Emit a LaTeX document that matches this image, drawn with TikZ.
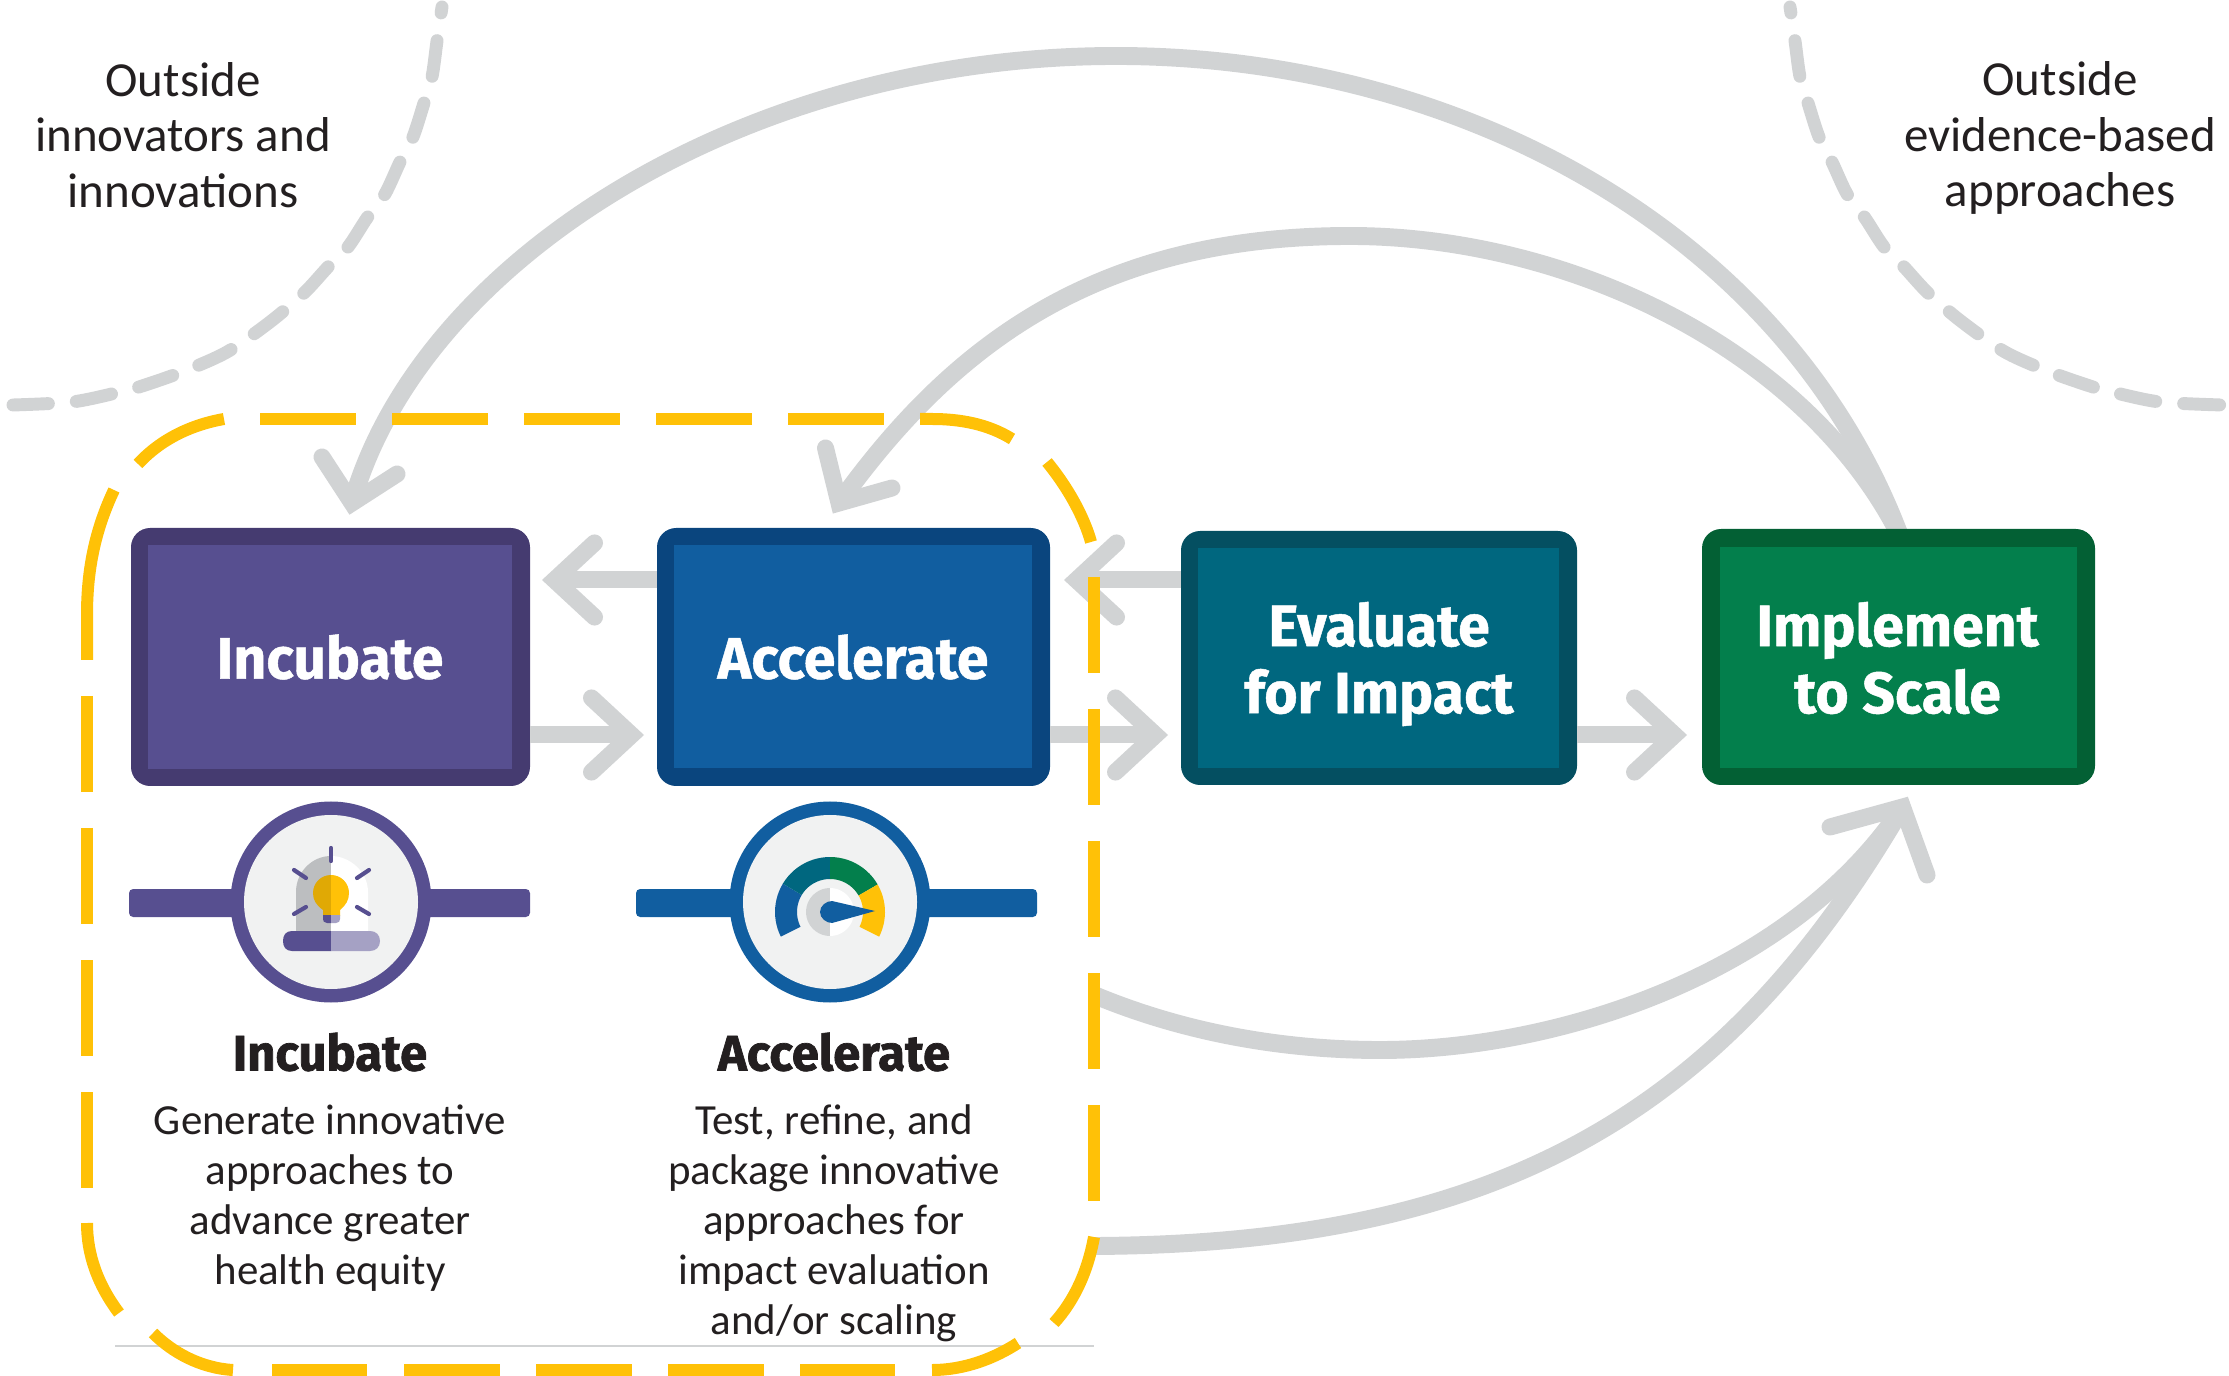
\documentclass[tikz,border=0pt]{standalone}
\usepackage{fontspec}
\setmainfont{Carlito}
\newfontfamily\heavy[FakeStretch=0.98,BoldFeatures={FakeBold=0.8}]{Fira Sans}
\newfontfamily\heavyb[FakeStretch=0.98,BoldFeatures={FakeBold=1.4}]{Fira Sans}
\usetikzlibrary{arrows.meta,calc,backgrounds}
\definecolor{gr}{HTML}{D1D3D4}
\definecolor{yl}{HTML}{FFC107}
\definecolor{yld}{HTML}{E0A905}
\definecolor{pu}{HTML}{574F90}
\definecolor{pul}{HTML}{A5A1C4}
\definecolor{pud}{HTML}{453B70}
\definecolor{bl}{HTML}{115EA0}
\definecolor{bld}{HTML}{0A457E}
\definecolor{te}{HTML}{00677F}
\definecolor{ted}{HTML}{044F61}
\definecolor{ge}{HTML}{037F4C}
\definecolor{ged}{HTML}{036034}
\definecolor{ic}{HTML}{F1F2F2}
\definecolor{dm}{HTML}{BCBEC0}
\definecolor{tx}{HTML}{231F20}
\def\pw{0.24pt}
\tikzset{
 outerbox/.style={rectangle,rounded corners=4.6pt,inner sep=0pt,outer sep=0pt},
 innerbox/.style={rectangle,inner sep=0pt,outer sep=0pt,align=center,text=white,font=\heavy\bfseries\fontsize{14}{16.1}\selectfont},
 straightarr/.style={draw=gr,line width=4.08pt,-{Straight Barb[length=9.6pt,width=17.8pt,line width=4.08pt,line cap=round,line join=miter]}},
 curvearc/.style={draw=gr,line width=4.3pt,line cap=butt},
 headbarb/.style={draw=gr,line width=4.08pt,line cap=round,line join=miter,miter limit=10},
 ydash/.style={draw=yl,line width=2.88pt,line cap=butt},
 gdash/.style={draw=gr,line width=3.1pt,line cap=round,dash pattern=on 8.64pt off 6.72pt,dash phase=7.2pt},
 toplabel/.style={align=center,text=tx,font=\fontsize{11.75}{13.35}\selectfont,inner sep=0pt},
 headlabel/.style={align=center,text=tx,font=\heavyb\bfseries\fontsize{12}{12}\selectfont,inner sep=0pt},
 desclabel/.style={align=center,text=tx,font=\fontsize{10.3}{12}\selectfont,inner sep=0pt},
 bar/.style={rounded corners=1pt},
 rayline/.style={draw=pu,line width=1pt,line cap=round}
}
\begin{document}
\begin{tikzpicture}[x=0.24pt,y=-0.24pt]
\useasboundingbox (0,0) rectangle (2229,1376);

% outside dashed arcs
\draw[gdash] plot[smooth] coordinates {(442,7)(437,41)(432,77)(424,103)(413,137)(400,162)(385,194)(367,218)(348,247)(328,267)(304,293)(270,322)(227,352)(182,372)(139,387)(116,393)(72,402)(13,405)};
\draw[gdash] plot[smooth] coordinates {(1790,7)(1795,41)(1800,77)(1808,103)(1819,137)(1832,162)(1847,194)(1865,218)(1884,247)(1904,267)(1928,293)(1962,322)(2005,352)(2050,372)(2093,387)(2116,393)(2160,402)(2222,405)};

% stage boxes
\node[outerbox,fill=pud,minimum width=399*\pw,minimum height=258*\pw] (inc) at (330.5,657) {};
\node[innerbox,fill=pu,minimum width=364*\pw,minimum height=224*\pw] (incin) at (330,657) {Incubate};
\node[outerbox,fill=bld,minimum width=393*\pw,minimum height=258*\pw] (acc) at (853.5,657) {};
\node[innerbox,fill=bl,minimum width=358*\pw,minimum height=223*\pw] (accin) at (853,657) {Accelerate};
\node[outerbox,fill=ted,minimum width=396*\pw,minimum height=254*\pw] (eva) at (1379,658) {};
\node[innerbox,fill=te,minimum width=361*\pw,minimum height=220*\pw] (evain) at (1378.5,658) {};
\node[innerbox] (evatext) at (1379,664) {Evaluate\\for Impact};
\node[outerbox,fill=ged,minimum width=393*\pw,minimum height=256*\pw] (imp) at (1898.5,657) {};
\node[innerbox,fill=ge,minimum width=357*\pw,minimum height=221*\pw] (impin) at (1898.5,657.5) {};
\node[innerbox] (imptext) at (1897.5,658) {Implement\\to Scale};

% straight arrows
\coordinate (upper) at (0,580);
\coordinate (lower) at (0,735);
\draw[straightarr,shorten >=12*\pw] (acc.west |- upper) -- (inc.east |- upper);
\draw[straightarr,shorten >=14*\pw] (eva.west |- upper) -- (acc.east |- upper);
\draw[straightarr,shorten >=13*\pw] (inc.east |- lower) -- (acc.west |- lower);
\draw[straightarr,shorten >=13*\pw] (acc.east |- lower) -- (eva.west |- lower);
\draw[straightarr,shorten >=15*\pw] (eva.east |- lower) -- (imp.west |- lower);

% feedback arcs
\coordinate (fa) at (1900,536);
\coordinate (va) at (352,503);
\coordinate (vb) at (839,503);
\coordinate (vc) at (1902.5,807);
\begin{scope}[on background layer]
\draw[curvearc] (fa) .. controls (1788,238) and (1466,56) .. (1116,56) .. controls (741,56) and (419.5,263) .. (va);
\draw[curvearc] (fa) .. controls (1807,351) and (1570,236) .. (1350,236) .. controls (1100,236) and (955,341) .. (vb);
\end{scope}
\draw[headbarb] (322,457) -- (va) -- (397,474);
\draw[headbarb] (825.5,448) -- (vb) -- (892,488);

% forward arcs
\coordinate (sc) at (1094,995);
\coordinate (sd) at (1094,1246);
\draw[curvearc] (sc) .. controls (1190,1035) and (1290,1050) .. (1380,1050) .. controls (1560,1050) and (1792,973) .. (vc);
\draw[curvearc] (sd) .. controls (1494,1244) and (1722,1117) .. (vc);
\draw[headbarb] (1830,827) -- (vc) -- (1927,875);

% thin rule
\draw[gr,line width=0.4pt] (115,1346) -- (1094,1346);

% yellow dashed boundary
\draw[ydash] (224,419) .. controls (190,425) and (160,440) .. (138,464);
\draw[ydash] (114,490) .. controls (95,530) and (87,570) .. (87,615) -- (87,660);
\foreach \a/\b in {260/356,392/488,524/620,656/752,788/884}{\draw[ydash] (\a,419) -- (\b,419);}
\draw[ydash] (920,419) -- (932,419) .. controls (960,419) and (988,424) .. (1012,439);
\draw[ydash] (1047,462) .. controls (1070,490) and (1085,520) .. (1091,542);
\foreach \a/\b in {577/673,709/805,841/937,973/1069,1105/1201}{\draw[ydash] (1094,\a) -- (1094,\b);}
\draw[ydash] (1094,1237) .. controls (1088,1270) and (1075,1300) .. (1054,1323);
\draw[ydash] (1018,1343) .. controls (995,1358) and (965,1370) .. (932,1370);
\foreach \a/\b in {272/367,404/500,536/632,668/764,800/895}{\draw[ydash] (\a,1370) -- (\b,1370);}
\draw[ydash] (233,1370) .. controls (200,1368) and (172,1352) .. (153,1333);
\draw[ydash] (119,1313) .. controls (98,1285) and (87,1255) .. (87,1223);
\foreach \a/\b in {696/792,828/924,960/1056,1092/1188}{\draw[ydash] (87,\a) -- (87,\b);}

% incubate icon
\fill[pu,bar] (129,889) rectangle (250,917);
\fill[pu,bar] (410,889) rectangle (530,917);
\fill[pu] (331,902) circle (100.5*\pw);
\fill[ic] (331,902) circle (87*\pw);
\fill[dm] (296,934) -- (296,892) .. controls (296,872) and (312,856) .. (331,856) -- (331,934) -- cycle;
\fill[white] (368,934) -- (368,892) .. controls (368,872) and (350,856) .. (331,856) -- (331,934) -- cycle;
\fill[pu] (331,931) -- (292,931) .. controls (286,931) and (283,935) .. (283,941) .. controls (283,947) and (286,951) .. (292,951) -- (331,951) -- cycle;
\fill[pul] (331,931) -- (370,931) .. controls (376,931) and (380,935) .. (380,941) .. controls (380,947) and (376,951) .. (370,951) -- (331,951) -- cycle;
\fill[yld] (331,875) .. controls (321,875) and (313,883) .. (313,893) .. controls (313,900) and (316,905) .. (323,910) -- (323,916) -- (331,916) -- cycle;
\fill[yl] (331,875) .. controls (341,875) and (349,883) .. (349,893) .. controls (349,900) and (346,905) .. (340,910) -- (340,916) -- (331,916) -- cycle;
\fill[pu] (323,915) -- (331,915) -- (331,923) -- (327,923) .. controls (324,923) and (323,921) .. (323,919) -- cycle;
\fill[pul] (340,915) -- (331,915) -- (331,923) -- (336,923) .. controls (339,923) and (340,921) .. (340,919) -- cycle;
\draw[rayline] (331,848) -- (331,861);
\draw[rayline] (294,870) -- (306,878);
\draw[rayline] (369,870) -- (357,878);
\draw[rayline] (294,914) -- (306,907);
\draw[rayline] (369,914) -- (357,907);

% accelerate icon
\fill[bl,bar] (636,889) rectangle (750,917);
\fill[bl,bar] (910,889) rectangle (1037,917);
\fill[bl] (830,902) circle (100.5*\pw);
\fill[ic] (830,902) circle (87*\pw);
\fill[bl] plot[domain=206.6:149,samples=14] ({830+55*cos(\x)},{912-55*sin(\x)}) -- plot[domain=149:206.6,samples=14] ({830+33*cos(\x)},{912-33*sin(\x)}) -- cycle;
\fill[te] plot[domain=149:90,samples=14] ({830+55*cos(\x)},{912-55*sin(\x)}) -- plot[domain=90:149,samples=14] ({830+33*cos(\x)},{912-33*sin(\x)}) -- cycle;
\fill[ge] plot[domain=90:30,samples=14] ({830+55*cos(\x)},{912-55*sin(\x)}) -- plot[domain=30:90,samples=14] ({830+33*cos(\x)},{912-33*sin(\x)}) -- cycle;
\fill[yl] plot[domain=30:-26.6,samples=14] ({830+55*cos(\x)},{912-55*sin(\x)}) -- plot[domain=-26.6:30,samples=14] ({830+33*cos(\x)},{912-33*sin(\x)}) -- cycle;
\fill[gr] plot[domain=90:270,samples=20] ({830+24*cos(\x)},{912-24*sin(\x)}) -- cycle;
\fill[white] plot[domain=90:-90,samples=20] ({830+24*cos(\x)},{912-24*sin(\x)}) -- cycle;
\fill[bl] (875,911) -- (832,901) .. controls (826,901) and (820,906) .. (820,912) .. controls (820,918) and (826,923) .. (832,923) -- cycle;

% top labels
\node[toplabel] (lbla) at (183,135) {Outside\\innovators and\\innovations};
\node[toplabel] (lblb) at (2060,138) {Outside\\evidence-based\\approaches};

% descriptions
\node[headlabel] (hinc) at (330,1052) {Incubate};
\node[headlabel] (hacc) at (834,1052) {Accelerate};
\node[desclabel] (dinc) at (330,1198) {Generate innovative\\approaches to\\advance greater\\health equity};
\node[desclabel] (dacc) at (834,1223) {Test, refine, and\\package innovative\\approaches for\\impact evaluation\\and/or scaling};
\end{tikzpicture}
\end{document}
